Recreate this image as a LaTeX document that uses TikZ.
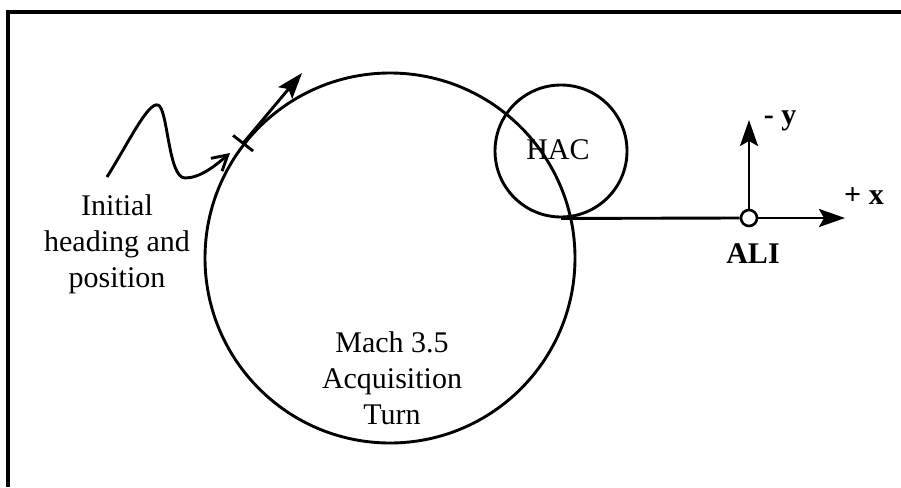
\documentclass[tikz,border=0pt]{standalone}
\usepackage{fontspec}
\setmainfont{Liberation Serif}
\usetikzlibrary{arrows.meta,calc}
\begin{document}
\begin{tikzpicture}[x=1pt,y=-1pt, line width=2.9pt,
  txt/.style={font=\fontsize{30}{36}\selectfont, inner sep=0pt, align=center},
  btxt/.style={font=\fontsize{30}{34}\selectfont\bfseries, inner sep=0pt},
  ring/.style={circle, draw, inner sep=0pt},
  bighead/.style={-{Stealth[length=26pt,width=18pt,inset=5pt]}},
  smallhead/.style={-{Straight Barb[length=15pt,width=17pt]}}]
\useasboundingbox (0,0) rectangle (901,487);
% frame
\draw[line width=3.2pt] (8,487) -- (8,12) -- (901,12);
% circles
\node[ring, minimum size=370pt] (turn) at (390,258) {};
\node[ring, minimum size=132pt] (hac) at (561,151) {};
\node[txt] (haclbl) at (558,150) {HAC};
\node[ring, minimum size=16pt, line width=2.6pt] (ali) at (749,218) {};
% tick and tangent arrow
\coordinate (tick) at (turn.142);
\coordinate (tk1) at ($(turn.center)!1.068!(tick)$);
\coordinate (tk2) at ($(turn.center)!0.932!(tick)$);
\draw (tk1) -- (tk2);
\coordinate (tantip) at (302,73);
\draw[bighead] (tick) -- (tantip);
% squiggle
\coordinate (sqstart) at (107,177);
\coordinate (sqend) at (230,153);
\draw[smallhead] (sqstart) .. controls (130,140) and (148,102) .. (158,105)
  .. controls (168,108) and (168,178) .. (185,178)
  .. controls (200,178) and (215,166) .. (sqend);
% axes
\coordinate (xtip) at (845,218);
\coordinate (ytip) at (749,120);
\draw (hac.south) -- (ali.west);
\draw[bighead] (ali.east) -- (xtip);
\draw[bighead] (ali.north) -- (ytip);
% labels
\node[txt] (init) at (117,244) {Initial\\heading and\\position};
\node[txt] (mach) at (392,378) {Mach 3.5\\Acquisition\\Turn};
\node[btxt, anchor=base] (alilbl) at (753,263) {ALI};
\node[btxt, anchor=base] (xlbl) at (864,204) {+ x};
\node[btxt, anchor=base] (ylbl) at (780,124) {- y};
\end{tikzpicture}
\end{document}
